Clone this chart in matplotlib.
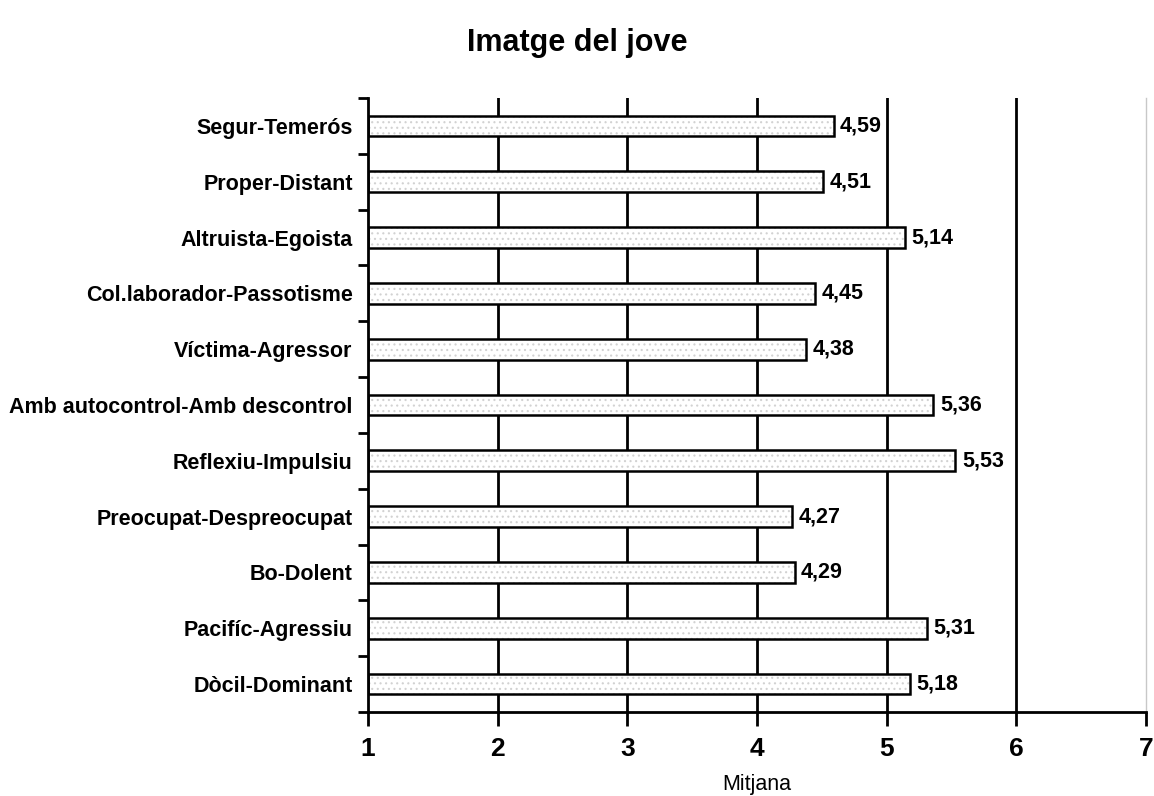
import matplotlib.pyplot as plt
import numpy as np

plt.rcParams['font.family'] = ['Liberation Sans', 'DejaVu Sans']

categories = ["Segur-Temerós", "Proper-Distant", "Altruista-Egoista",
              "Col.laborador-Passotisme", "Víctima-Agressor",
              "Amb autocontrol-Amb descontrol", "Reflexiu-Impulsiu",
              "Preocupat-Despreocupat", "Bo-Dolent", "Pacifíc-Agressiu",
              "Dòcil-Dominant"]
values = [4.59, 4.51, 5.14, 4.45, 4.38, 5.36, 5.53, 4.27, 4.29, 5.31, 5.18]
labels = ["4,59", "4,51", "5,14", "4,45", "4,38", "5,36", "5,53", "4,27",
          "4,29", "5,31", "5,18"]

fig = plt.figure(figsize=(11.54, 7.96), dpi=100)
ax = fig.add_axes([0.3189, 0.1055, 0.6742, 0.7714])

n = len(categories)
y = np.arange(n)[::-1]
widths = [v - 1 for v in values]

# grid lines behind bars
for g in [2, 3, 4, 5, 6]:
    ax.axvline(g, color='black', lw=2, zorder=0)

plt.rcParams['hatch.linewidth'] = 0.8
ax.barh(y, widths, left=1, height=0.37, color='white', edgecolor='#d2d2d2',
        hatch='...', linewidth=0, zorder=2)
ax.barh(y, widths, left=1, height=0.37, fill=False, edgecolor='black',
        linewidth=1.8, zorder=3)

for yi, v, lab in zip(y, values, labels):
    ax.text(v + 0.05, yi, lab, va='center', ha='left', fontsize=15.5,
            fontweight='bold')

ax.set_xlim(1, 7)
ax.set_ylim(-0.5, n - 0.5)
ax.set_xticks([1, 2, 3, 4, 5, 6, 7])
ax.set_xticklabels(['1', '2', '3', '4', '5', '6', '7'], fontsize=19,
                   fontweight='bold')
ax.tick_params(axis='x', direction='out', length=10, width=2, pad=8)

ax.set_yticks(y)
ax.set_yticklabels(categories, fontsize=15.5, fontweight='bold')
ax.set_yticks(np.arange(n + 1) - 0.5, minor=True)
ax.tick_params(axis='y', which='major', length=0, pad=11)
ax.tick_params(axis='y', which='minor', direction='out', length=7, width=2)

ax.spines['top'].set_visible(False)
ax.spines['right'].set_color('#c8c8c8')
ax.spines['right'].set_linewidth(1)
ax.spines['left'].set_linewidth(2)
ax.spines['bottom'].set_linewidth(2)

ax.set_xlabel("Mitjana", fontsize=15.5, labelpad=9)
fig.suptitle("Imatge del jove", fontsize=22, fontweight='bold', y=0.965)

fig.savefig("out.png", dpi=100)
